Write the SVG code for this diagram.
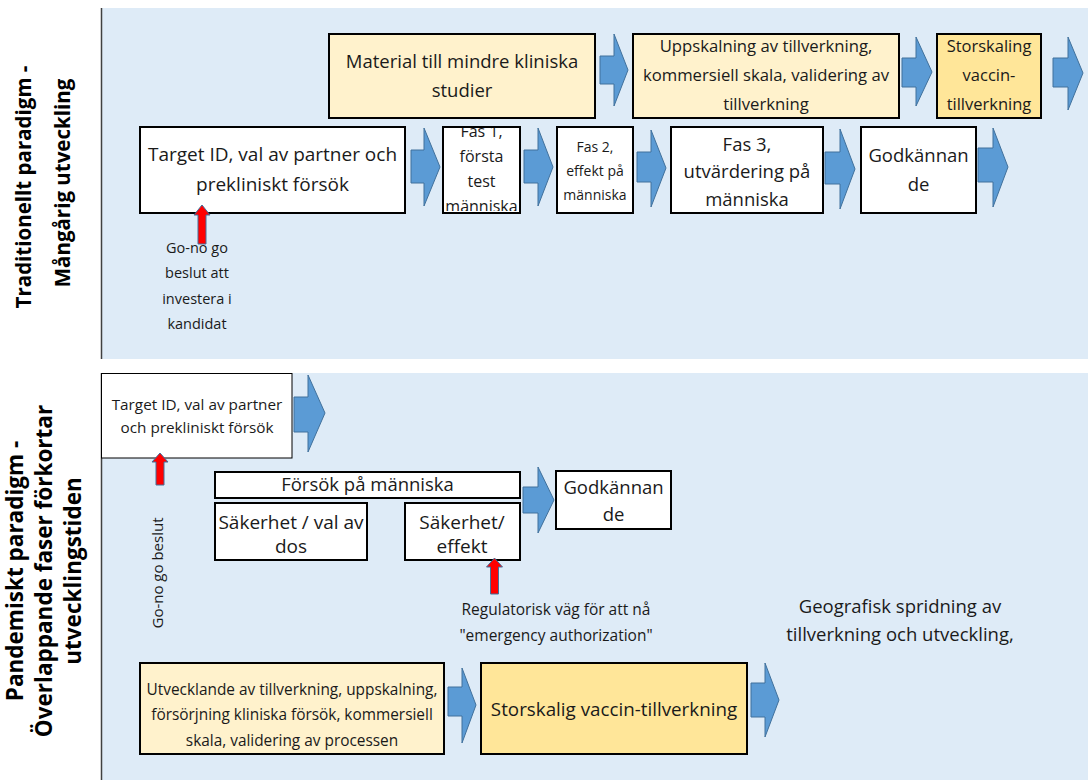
<svg xmlns="http://www.w3.org/2000/svg" width="1088" height="780" viewBox="0 0 1088 780">
<style>
.bg{fill:#DEEBF7}
.box{fill:#fff;stroke:#000;stroke-width:2}
.thin{stroke-width:1}
.y1{fill:#FFF2CC}
.y2{fill:#FFE699}
.arr{fill:#5B9BD5;stroke:#41719C;stroke-width:1}
.red{fill:#FF0000;stroke:#41719C;stroke-width:1}
text{font-family:"Open Sans","Noto Sans","DejaVu Sans",sans-serif;fill:#1a1a1a;text-anchor:middle}
.lbl{font-weight:bold;fill:#000}
</style>
<defs>
<clipPath id="clipFas1"><rect x="444" y="128" width="75" height="83"/></clipPath>
</defs>
<rect class="bg" x="102" y="8" width="986" height="351"/>
<rect class="bg" x="102" y="373" width="986" height="407"/>
<line x1="101.5" y1="8" x2="101.5" y2="359" stroke="#404040" stroke-width="1.5"/>
<line x1="101.5" y1="373" x2="101.5" y2="780" stroke="#404040" stroke-width="1.5"/>

<g id="label-traditionellt">
<text class="lbl" font-size="20.5" transform="translate(31,187) rotate(-90)">Traditionellt paradigm -</text>
<text class="lbl" font-size="20.5" transform="translate(70,183) rotate(-90)">Mångårig utveckling</text>
</g>
<g id="label-pandemiskt">
<text class="lbl" font-size="22.5" transform="translate(23,571) rotate(-90)">Pandemiskt paradigm -</text>
<text class="lbl" font-size="22.5" transform="translate(52,571) rotate(-90)">Överlappande faser förkortar</text>
<text class="lbl" font-size="22.5" transform="translate(81,571) rotate(-90)">utvecklingstiden</text>
</g>

<g id="material">
<rect class="box y1" x="329" y="34" width="266" height="84"/>
<text x="462" y="68" font-size="18.5">Material till mindre kliniska</text>
<text x="462" y="97" font-size="18.5">studier</text>
</g>
<g id="uppskalning">
<rect class="box y1" x="633" y="34" width="266" height="84"/>
<text x="766" y="52" font-size="16.7">Uppskalning av tillverkning,</text>
<text x="766" y="81" font-size="16.7">kommersiell skala, validering av</text>
<text x="766" y="110" font-size="16.7">tillverkning</text>
</g>
<g id="storskaling">
<rect class="box y2" x="937" y="34" width="104" height="84"/>
<text x="989" y="52" font-size="16.5">Storskaling</text>
<text x="989" y="81" font-size="16.5">vaccin-</text>
<text x="989" y="110" font-size="16.5">tillverkning</text>
</g>
<g id="target-trad">
<rect class="box" x="140" y="127" width="265" height="86"/>
<text x="272.5" y="161" font-size="19">Target ID, val av partner och</text>
<text x="272.5" y="191" font-size="19">prekliniskt försök</text>
</g>
<g id="fas1">
<rect class="box" x="443" y="127" width="77" height="86"/>
<g clip-path="url(#clipFas1)">
<text x="481.5" y="137" font-size="16">Fas 1,</text>
<text x="481.5" y="162" font-size="16">första</text>
<text x="481.5" y="187" font-size="16">test</text>
<text x="481.5" y="212" font-size="16">människa</text>
</g>
</g>
<g id="fas2">
<rect class="box" x="557" y="127" width="76" height="86"/>
<text x="595" y="152" font-size="14">Fas 2,</text>
<text x="595" y="176" font-size="14">effekt på</text>
<text x="595" y="200" font-size="14">människa</text>
</g>
<g id="fas3">
<rect class="box" x="671" y="127" width="152" height="86"/>
<text x="747" y="151" font-size="18.5">Fas 3,</text>
<text x="747" y="178" font-size="18.5">utvärdering på</text>
<text x="747" y="206" font-size="18.5">människa</text>
</g>
<g id="godkannande-trad">
<rect class="box" x="861" y="127" width="115" height="86"/>
<text x="918.5" y="162" font-size="18.5">Godkännan</text>
<text x="918.5" y="191" font-size="18.5">de</text>
</g>
<g id="gonogo-trad">
<text x="197" y="253" font-size="14.5">Go-no go</text>
<text x="197" y="278" font-size="14.5">beslut att</text>
<text x="197" y="304" font-size="14.5">investera i</text>
<text x="197" y="329" font-size="14.5">kandidat</text>
</g>

<g id="target-pand">
<rect class="box thin" x="101.5" y="373.5" width="190.5" height="84.5"/>
<text x="197" y="410" font-size="15.3">Target ID, val av partner</text>
<text x="197" y="433" font-size="15.3">och prekliniskt försök</text>
</g>
<g id="forsok">
<rect class="box" x="215" y="472" width="305" height="26"/>
<text x="367.5" y="491" font-size="18.5">Försök på människa</text>
</g>
<g id="sakerhet-dos">
<rect class="box" x="215" y="503" width="152" height="57"/>
<text x="291" y="529" font-size="19">Säkerhet / val av</text>
<text x="291" y="553" font-size="19">dos</text>
</g>
<g id="sakerhet-effekt">
<rect class="box" x="405" y="503" width="115" height="57"/>
<text x="462" y="529" font-size="19">Säkerhet/</text>
<text x="462" y="553" font-size="19">effekt</text>
</g>
<g id="godkannande-pand">
<rect class="box" x="556" y="471" width="115" height="58"/>
<text x="613.5" y="494" font-size="18.5">Godkännan</text>
<text x="613.5" y="521" font-size="18.5">de</text>
</g>
<g id="gonogo-pand">
<text transform="translate(163,573) rotate(-90)" font-size="15">Go-no go beslut</text>
</g>
<g id="regulatorisk">
<text x="556" y="615" font-size="15.5">Regulatorisk väg för att nå</text>
<text x="556" y="641" font-size="15.5">"emergency authorization"</text>
</g>
<g id="geografisk">
<text x="900" y="613" font-size="18.5">Geografisk spridning av</text>
<text x="900" y="641" font-size="18.5">tillverkning och utveckling,</text>
</g>
<g id="utvecklande">
<rect class="box y1" x="140" y="663" width="304" height="91"/>
<text x="292" y="695" font-size="15.4">Utvecklande av tillverkning, uppskalning,</text>
<text x="292" y="720" font-size="15.4">försörjning kliniska försök, kommersiell</text>
<text x="292" y="746" font-size="15.4">skala, validering av processen</text>
</g>
<g id="storskalig">
<rect class="box y2" x="481" y="663" width="266" height="91"/>
<text x="614" y="716" font-size="18.8">Storskalig vaccin-tillverkning</text>
</g>

<g id="connectors">
<polygon class="arr" points="600,56 614,56 614,34 628,70 614,106 614,84 600,84"/>
<polygon class="arr" points="902,58 916,58 916,37 932,72 916,106 916,87 902,87"/>
<polygon class="arr" points="1053,58 1068,58 1068,37 1083,73 1068,110 1068,87 1053,87"/>
<polygon class="arr" points="411,150 424,150 424,128 440,167 424,206 424,183 411,183"/>
<polygon class="arr" points="524,150 538,150 538,128 553,167 538,206 538,183 524,183"/>
<polygon class="arr" points="637,152 651,152 651,130 666,168 651,207 651,182 637,182"/>
<polygon class="arr" points="825,152 840,152 840,129 855,169 840,209 840,184 825,184"/>
<polygon class="arr" points="978,148 993,148 993,128 1008,167 993,207 993,182 978,182"/>
<polygon class="arr" points="294,397 308,397 308,375 325,413 308,452 308,432 294,432"/>
<polygon class="arr" points="523,487 538,487 538,467 554,500 538,533 538,513 523,513"/>
<polygon class="arr" points="448,687 462,687 462,668 476,705 462,743 462,716 448,716"/>
<polygon class="arr" points="751,683 765,683 765,663 779,700 765,737 765,717 751,717"/>
<polygon class="red" points="198,244 198,215 194,215 202,205 210,215 206,215 206,244"/>
<polygon class="red" points="156,485 156,462 152,462 160,453 168,462 164,462 164,485"/>
<polygon class="red" points="490.5,594 490.5,567 486.5,567 494.5,558 502.5,567 498.5,567 498.5,594"/>
</g>
</svg>
